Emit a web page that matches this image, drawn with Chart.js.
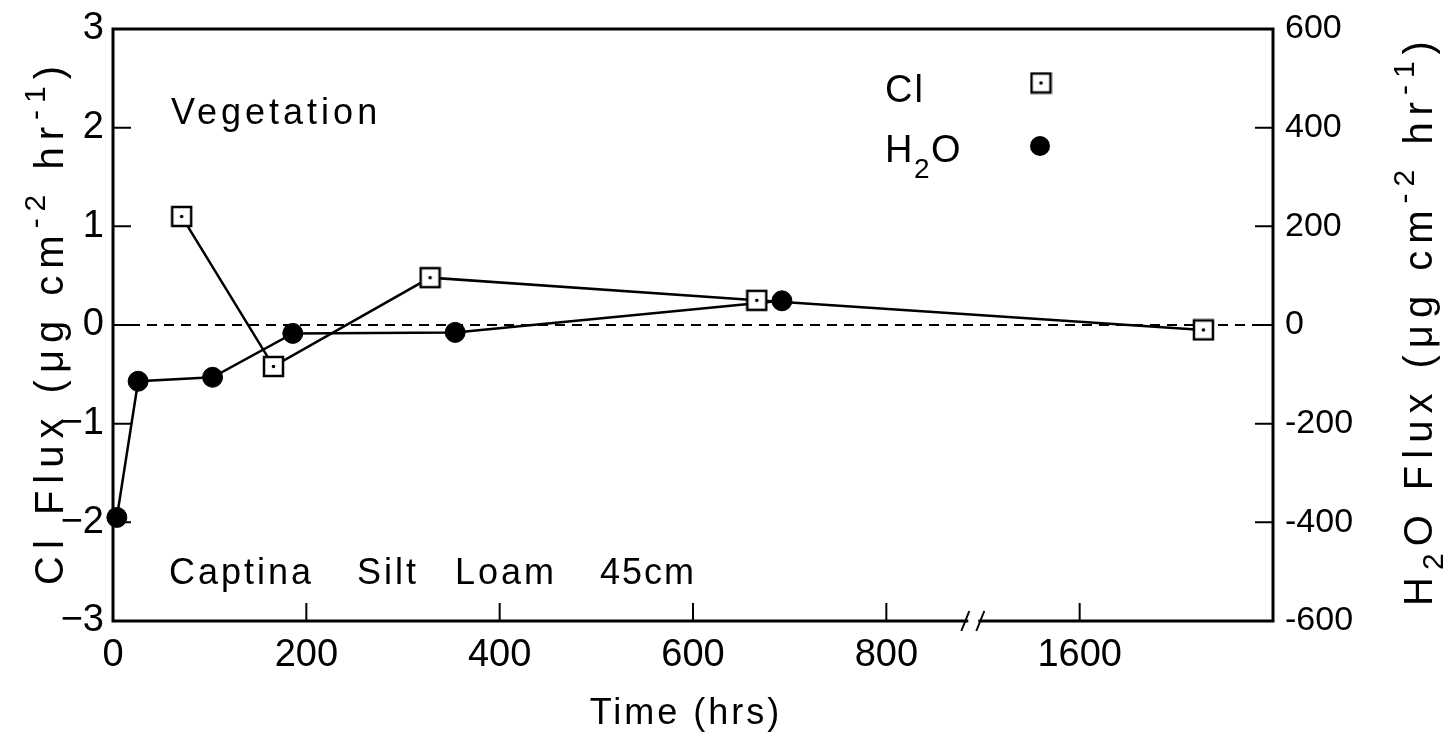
<!DOCTYPE html>
<html>
<head>
<meta charset="utf-8">
<script src="https://cdn.jsdelivr.net/npm/chart.js@4.4.1/dist/chart.umd.min.js"></script>
<style>
  html, body { margin: 0; padding: 0; background: #fff; }
</style>
</head>
<body>
<canvas id="fluxChart" width="1449" height="733"></canvas>
<script>
// Cl flux (ug cm-2 hr-1), left axis
const clHours = [71, 166, 328, 666, 1728];
const clFlux  = [1.10, -0.42, 0.48, 0.25, -0.05];

// H2O flux (ug cm-2 hr-1), right axis
const h2oHours = [4, 26, 103, 186, 354, 692];
const h2oFlux  = [-390, -114, -106, -17, -15, 49];

const xTickHours = [0, 200, 400, 600, 800, 1600];
const clTicks  = [-3, -2, -1, 0, 1, 2, 3];
const h2oTicks = [-600, -400, -200, 0, 200, 400, 600];

const FONT = '"Liberation Sans", Arial, sans-serif';

// time axis is broken between 800 and 1600 hrs
const breakAfter = 900;
const breakShift = 600;
const breakMark = 891;
const xMax = 1200;
function toAxis(h) { return h > breakAfter ? h - breakShift : h; }
function fromAxis(v) { return v > breakMark ? v + breakShift : v; }

// open square with a centre dot
function makeClMarker(side) {
    const c = document.createElement('canvas');
    c.width = side + 4;
    c.height = side + 4;
    const g = c.getContext('2d');
    g.fillStyle = '#fff';
    g.strokeStyle = '#000';
    g.lineWidth = 2.5;
    g.fillRect(2, 2, side, side);
    g.strokeRect(2, 2, side, side);
    g.fillStyle = '#000';
    g.beginPath();
    g.arc(c.width / 2, c.height / 2, 1.8, 0, Math.PI * 2);
    g.fill();
    return c;
}
const clMarker = makeClMarker(19);

// draws text runs (text, size, rise) centred on x,y, optionally turned upright
function drawRich(ctx, parts, x, y, upright, spacing) {
    ctx.save();
    ctx.translate(x, y);
    if (upright) ctx.rotate(-Math.PI / 2);
    ctx.letterSpacing = spacing + 'px';
    ctx.textBaseline = 'alphabetic';
    ctx.textAlign = 'left';
    let total = 0;
    parts.forEach(p => {
        ctx.font = p[1] + 'px ' + FONT;
        total += ctx.measureText(p[0]).width;
    });
    let cx = -total / 2;
    parts.forEach(p => {
        ctx.font = p[1] + 'px ' + FONT;
        ctx.fillText(p[0], cx, -p[2]);
        cx += ctx.measureText(p[0]).width;
    });
    ctx.restore();
}

function drawWord(ctx, text, x, y, size, spacing) {
    ctx.save();
    ctx.font = size + 'px ' + FONT;
    ctx.letterSpacing = spacing + 'px';
    ctx.textAlign = 'left';
    ctx.textBaseline = 'alphabetic';
    ctx.fillText(text, x, y);
    ctx.restore();
}

const framePlugin = {
    id: 'frame',
    afterDraw(chart) {
        const { ctx, chartArea: a, scales } = chart;
        ctx.save();
        ctx.strokeStyle = '#000';
        ctx.fillStyle = '#000';
        ctx.lineWidth = 3;
        ctx.strokeRect(a.left, a.top, a.right - a.left, a.bottom - a.top);

        // tick marks point into the plot
        ctx.lineWidth = 2;
        ctx.beginPath();
        scales.x.ticks.forEach(t => {
            if (t.value === 0) return;
            const px = scales.x.getPixelForValue(t.value);
            ctx.moveTo(px, a.bottom);
            ctx.lineTo(px, a.bottom - 18);
        });
        scales.y.ticks.forEach(t => {
            if (Math.abs(t.value) === 3) return;
            const py = scales.y.getPixelForValue(t.value);
            ctx.moveTo(a.left, py);
            ctx.lineTo(a.left + 18, py);
        });
        scales.y2.ticks.forEach(t => {
            if (Math.abs(t.value) === 600) return;
            const py = scales.y2.getPixelForValue(t.value);
            ctx.moveTo(a.right, py);
            ctx.lineTo(a.right - 18, py);
        });
        ctx.stroke();

        // break marks on the time axis
        const bx = scales.x.getPixelForValue(breakMark);
        ctx.fillStyle = '#fff';
        ctx.fillRect(bx - 6, a.bottom - 3, 10, 6);
        ctx.beginPath();
        ctx.moveTo(bx - 13, a.bottom + 10);
        ctx.lineTo(bx - 5, a.bottom - 10);
        ctx.moveTo(bx + 2, a.bottom + 10);
        ctx.lineTo(bx + 10, a.bottom - 10);
        ctx.stroke();

        // axis titles
        ctx.fillStyle = '#000';
        drawRich(ctx, [['Cl Flux (\u03bcg cm', 40, 0], ['-2', 30, 18], [' hr', 40, 0], ['-1', 30, 18], [')', 40, 0]],
            63, 322, true, 7);
        drawRich(ctx, [['H', 40, 0], ['2', 30, -11], ['O Flux (\u03bcg cm', 40, 0], ['-2', 30, 18], [' hr', 40, 0], ['-1', 30, 18], [')', 40, 0]],
            1432, 320, true, 7);
        drawRich(ctx, [['Time (hrs)', 36, 0]], 686, 724, false, 3);

        // notes inside the plot
        drawWord(ctx, 'Vegetation', 171, 124, 36, 4);
        drawWord(ctx, 'Captina', 169, 584, 36, 3);
        drawWord(ctx, 'Silt', 357, 584, 36, 3);
        drawWord(ctx, 'Loam', 455, 584, 36, 3);
        drawWord(ctx, '45cm', 600, 584, 36, 2);

        // key
        drawWord(ctx, 'Cl', 885, 102, 38, 2);
        ctx.drawImage(clMarker, 1041 - clMarker.width / 2, 83 - clMarker.height / 2);
        drawWord(ctx, 'H', 885, 162, 38, 0);
        drawWord(ctx, '2', 914, 178, 28, 0);
        drawWord(ctx, 'O', 931, 162, 38, 0);
        ctx.beginPath();
        ctx.arc(1040, 146, 10, 0, Math.PI * 2);
        ctx.fill();
        ctx.restore();
    }
};

const clPoints = clHours.map((h, i) => ({ x: toAxis(h), y: clFlux[i] }));
const h2oPoints = h2oHours.map((h, i) => ({ x: toAxis(h), y: h2oFlux[i] }));

new Chart(document.getElementById('fluxChart'), {
    type: 'line',
    data: {
        datasets: [
            {
                label: 'Cl',
                data: clPoints,
                yAxisID: 'y',
                borderColor: '#000',
                borderWidth: 2.5,
                pointStyle: clMarker,
                pointRadius: 11,
                tension: 0,
                clip: false
            },
            {
                label: 'H2O',
                data: h2oPoints,
                yAxisID: 'y2',
                borderColor: '#000',
                borderWidth: 2.5,
                pointBackgroundColor: '#000',
                pointBorderColor: '#000',
                pointBorderWidth: 1,
                pointRadius: 10,
                tension: 0,
                clip: false
            },
            {
                label: 'zero',
                data: [{ x: 0, y: 0 }, { x: xMax, y: 0 }],
                yAxisID: 'y',
                borderColor: '#000',
                borderWidth: 2.2,
                borderDash: [10, 7],
                pointRadius: 0
            }
        ]
    },
    options: {
        responsive: false,
        animation: false,
        events: [],
        layout: { padding: { top: 24, right: 0, left: 0, bottom: 0 } },
        plugins: { legend: { display: false }, tooltip: { enabled: false } },
        scales: {
            x: {
                type: 'linear',
                position: 'bottom',
                min: 0,
                max: xMax,
                grid: { display: false, drawTicks: false },
                border: { display: false },
                afterBuildTicks: s => { s.ticks = xTickHours.map(h => ({ value: toAxis(h) })); },
                afterFit: s => { s.height = 112; },
                ticks: {
                    color: '#000',
                    padding: 12,
                    maxRotation: 0,
                    autoSkip: false,
                    font: { family: FONT, size: 38 },
                    callback: v => String(fromAxis(v))
                }
            },
            y: {
                position: 'left',
                min: -3,
                max: 3,
                grid: { display: false, drawTicks: false },
                border: { display: false },
                afterBuildTicks: s => { s.ticks = clTicks.map(v => ({ value: v })); },
                afterFit: s => { s.width = 113; },
                ticks: {
                    color: '#000',
                    padding: 9,
                    font: { family: FONT, size: 38, lineHeight: 1 },
                    callback: v => v < 0 ? '\u2212' + Math.abs(v) : String(v)
                }
            },
            y2: {
                position: 'right',
                min: -600,
                max: 600,
                grid: { display: false, drawTicks: false },
                border: { display: false },
                afterBuildTicks: s => { s.ticks = h2oTicks.map(v => ({ value: v })); },
                afterFit: s => { s.width = 176; },
                ticks: {
                    color: '#000',
                    padding: 12,
                    font: { family: FONT, size: 34, lineHeight: 1 },
                    callback: v => String(v)
                }
            }
        }
    },
    plugins: [framePlugin]
});
</script>
</body>
</html>
